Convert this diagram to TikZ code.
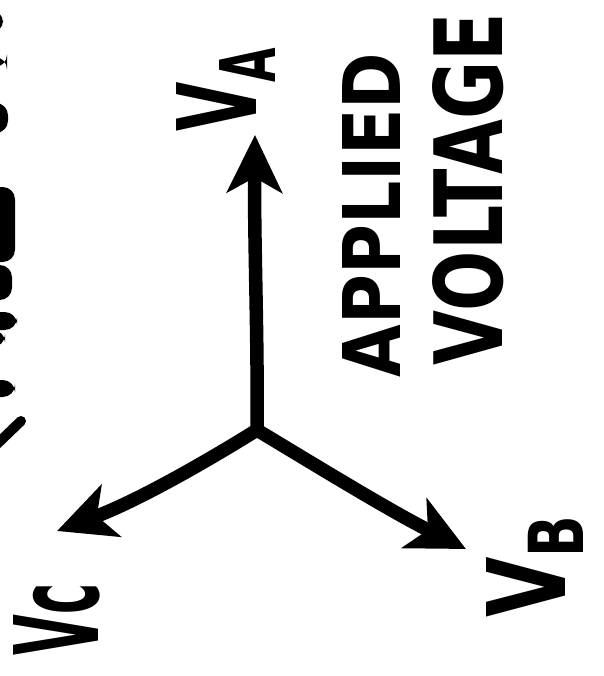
\documentclass[tikz,border=0pt]{standalone}
\usepackage{fontspec}
\newfontfamily\handfont{DejaVu Sans}
\usetikzlibrary{arrows.meta}

\begin{document}
\begin{tikzpicture}[
    x=0.02cm, y=-0.02cm,
    phasor/.style={line width=0.27cm, line cap=round, -{Stealth[length=1.15cm, width=1.1cm, inset=0.3cm]}},
    phasorname/.style={font=\handfont\bfseries, inner sep=0pt, rotate=90},
    note/.style={font=\handfont\bfseries, inner sep=0pt, rotate=90},
    fragment/.style={fill=black, rounded corners=7pt}
]
\useasboundingbox (0,0) rectangle (603,676);

% Star point and phasor tips
\coordinate (n) at (257,430);
\coordinate (a) at (255,135);
\coordinate (b) at (466,549);
\coordinate (c) at (57,531);

% Phasors
\draw[phasor] (n) .. controls (258,340) and (254,240) .. (a);
\draw[phasor] (n) .. controls (320,468) and (392,512) .. (b);
\draw[phasor] (n) .. controls (212,458) and (140,500) .. (c);

% Phasor names
\node[phasorname] (va) at (226,88) {\resizebox{1.74cm}{1.6cm}{V\textsubscript{A}}};
\node[phasorname] (vb) at (535,565) {\resizebox{2.12cm}{1.58cm}{V\textsubscript{B}}};
\node[phasorname] (vc) at (57,619) {\resizebox{1.44cm}{1.7cm}{Vc}};

% Title on the right
\node[note] (applied) at (371,215) {\resizebox{6.48cm}{1.16cm}{APPLIED}};
\node[note] (voltage) at (468,189) {\resizebox{7.04cm}{1.4cm}{VOLTAGE}};

% Cut-off writing on the left edge
\foreach \ya/\yb/\xe in {10/33/3, 57/67/7, 103/133/8, 187/262/15, 265/300/12, 312/330/17, 330/347/5, 380/397/15} {
    \fill[fragment] (-20,\ya) rectangle (\xe,\yb);
}
\draw[line width=0.2cm, line cap=round] (-5,446) -- (21,421);

\end{tikzpicture}
\end{document}
